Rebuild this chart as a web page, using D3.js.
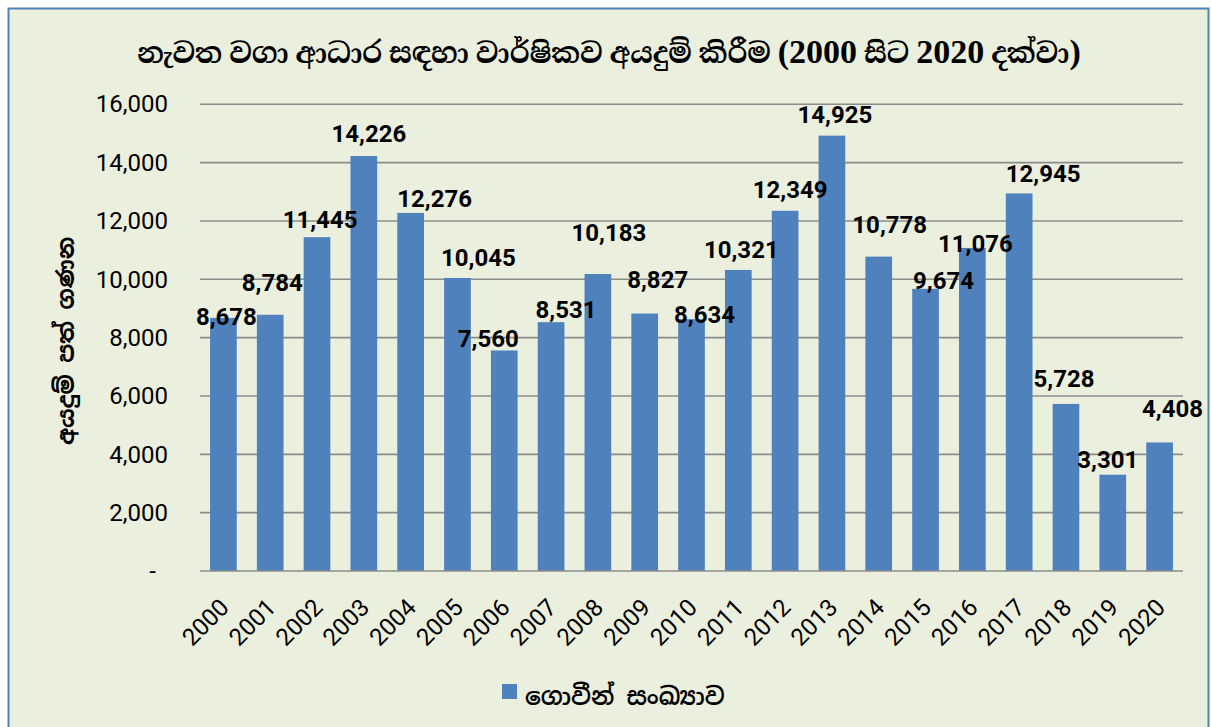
<!DOCTYPE html>
<html>
<head>
<meta charset="utf-8">
<script src="https://cdn.jsdelivr.net/npm/d3@7"></script>
<style>
  html, body { margin: 0; padding: 0; background: #ffffff; }
  svg { display: block; }
</style>
</head>
<body>
<svg id="chart" width="1211" height="727"></svg>
<script>
// ---- data ----
const years = ["2000","2001","2002","2003","2004","2005","2006","2007","2008","2009","2010",
               "2011","2012","2013","2014","2015","2016","2017","2018","2019","2020"];
const applications = [8678, 8784, 11445, 14226, 12276, 10045, 7560, 8531, 10183, 8827, 8634,
                      10321, 12349, 14925, 10778, 9674, 11076, 12945, 5728, 3301, 4408];
const yTicks = [0, 2000, 4000, 6000, 8000, 10000, 12000, 14000, 16000];
// title pieces: Sinhala words and the year range (years are typeset larger, as in the original)
const titleParts = ["නැවත වගා ආධාර සඳහා වාර්ෂිකව අයදුම් කිරීම ", "(2000", " සිට ", "2020", " දක්වා", ")"];
const yTitle = "අයදුම් පත් ගණන";
const seriesName = "ගොවීන් සංඛ්‍යාව";
// manual label nudges (px) as placed in the original chart: [dx, dy]
const labelNudge = [[3,18],[2,-12],[3,2],[5,-3],[24,5],[21,-1],[-16,8],[15,7],[11,-22],[13,-14],[13,15],
                    [3,-1],[5,-1],[3,-1],[11,-12],[18,12],[3,15],[24,0],[-2,-6],[-5,5],[13,-14]];

const sinhala = "'Noto Sans Sinhala','Noto Serif Sinhala','Iskoola Pota','Noto Sans','DejaVu Sans',sans-serif";
const num = "Roboto, 'Noto Sans', sans-serif";

const svg = d3.select("#chart");
// chart area
svg.append("rect").attr("x", 8.5).attr("y", 8.5).attr("width", 1200).attr("height", 730)
  .attr("fill", "#ebefde").attr("stroke", "#4f81bd").attr("stroke-width", 2);

const x = d3.scaleBand().domain(years).range([200, 1183]).paddingInner(0.43).paddingOuter(0.215);
const y = d3.scaleLinear().domain([0, 16000]).range([571, 104.3]);

// gridlines
svg.append("g").selectAll("line").data(yTicks.filter(d => d > 0)).join("line")
  .attr("x1", 200).attr("x2", 1183)
  .attr("y1", d => y(d)).attr("y2", d => y(d))
  .attr("stroke", "#8c8c8c").attr("stroke-width", 1.6);

// y axis labels
const yAxis = d3.axisLeft(y).tickValues(yTicks).tickSize(0).tickPadding(32)
  .tickFormat(d => d === 0 ? "-" : d3.format(",")(d));
const gy = svg.append("g").attr("transform", "translate(200,0)").call(yAxis);
gy.select(".domain").remove();
gy.selectAll("text").attr("font-family", num).attr("font-size", 24).attr("fill", "#000")
  .attr("dx", d => d === 0 ? -12 : 0);

// bars
svg.append("g").selectAll("rect").data(applications).join("rect")
  .attr("x", (d, i) => x(years[i]))
  .attr("y", d => y(d))
  .attr("width", x.bandwidth())
  .attr("height", d => y(0) - y(d))
  .attr("fill", "#4f81bd");

// baseline
svg.append("line").attr("x1", 200).attr("x2", 1183).attr("y1", y(0)).attr("y2", y(0))
  .attr("stroke", "#8c8c8c").attr("stroke-width", 1.6);

// data labels
svg.append("g").selectAll("text").data(applications).join("text")
  .attr("x", (d, i) => x(years[i]) + x.bandwidth() / 2 + labelNudge[i][0])
  .attr("y", (d, i) => y(d) - 20 + labelNudge[i][1])
  .attr("dy", "0.36em")
  .attr("text-anchor", "middle")
  .attr("font-family", num).attr("font-size", 24).attr("font-weight", "bold").attr("fill", "#000")
  .text(d => d3.format(",")(d));

// x axis labels
const xAxis = d3.axisBottom(x).tickSize(0).tickPadding(0);
const gx = svg.append("g").attr("transform", `translate(0,${y(0)})`).call(xAxis);
gx.select(".domain").remove();
gx.selectAll("text")
  .attr("font-family", num).attr("font-size", 24).attr("fill", "#000")
  .attr("text-anchor", "end")
  .attr("dy", 0).attr("y", 0)
  .attr("transform", "translate(7,38) rotate(-45)");

// title
const title = svg.append("text").attr("x", 609).attr("y", 63).attr("text-anchor", "middle")
  .attr("font-family", "'Liberation Serif','Noto Serif Sinhala','Noto Sans Sinhala','Iskoola Pota',serif")
  .attr("font-weight", "bold").attr("fill", "#000");
title.selectAll("tspan").data(titleParts).join("tspan")
  .attr("font-size", d => /[0-9()]/.test(d) ? 34 : 28)
  .text(d => d);
title.style("white-space", "pre");

// y title
svg.append("text").attr("transform", "translate(74,341) rotate(-90)")
  .attr("text-anchor", "middle")
  .attr("font-family", sinhala).attr("font-size", 23).attr("font-weight", "bold").attr("fill", "#000")
  .text(yTitle);

// legend
const lg = svg.append("g");
lg.append("rect").attr("x", 502).attr("y", 684).attr("width", 15).attr("height", 15).attr("fill", "#4f81bd");
lg.append("text").attr("x", 525).attr("y", 705)
  .attr("font-family", sinhala).attr("font-size", 24).attr("font-weight", 600).attr("fill", "#000")
  .text(seriesName);
</script>
</body>
</html>
